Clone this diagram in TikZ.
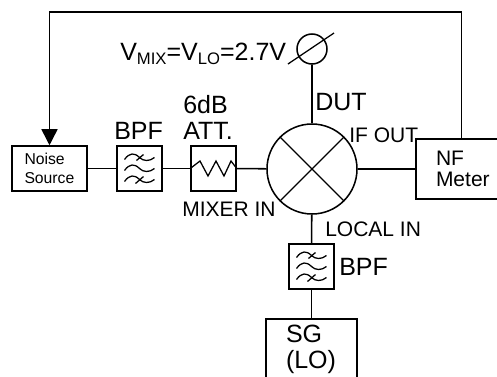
\documentclass[tikz,border=0pt]{standalone}
\usepackage{fontspec}
\setmainfont{Liberation Sans}
\usetikzlibrary{arrows.meta}
\newcommand{\bigtxt}{\fontsize{18.75}{19.5}\selectfont}
\newcommand{\midtxt}{\fontsize{15.75}{15.75}\selectfont}
\newcommand{\smalltxt}{\fontsize{11.8}{14.25}\selectfont}
\newcommand{\subtxt}[1]{\raisebox{-3pt}{\fontsize{12.5}{12.5}\selectfont #1}}
\tikzset{
  wire/.style={line width=1.15pt},
  thinwire/.style={line width=0.95pt},
  blockbox/.style={draw,line width=1.15pt,inner sep=0pt,minimum width=33.75pt,minimum height=33.75pt},
  bigbox/.style={draw,line width=1.15pt,align=left,inner ysep=0pt,inner xsep=15pt,text width=38.25pt,minimum height=45pt},
  lbl/.style={anchor=base west,inner sep=0pt},
  bpf/.pic={
    \draw[thinwire] (-15,-9) .. controls (-10,-16) and (-5,-16) .. (0,-11) .. controls (4,-7) and (10,-7) .. (15,-11);
    \draw[thinwire] (-15,2) .. controls (-10,-5) and (-5,-5) .. (0,0) .. controls (4,4) and (10,4) .. (15,0);
    \draw[thinwire] (-15,13) .. controls (-10,6) and (-5,6) .. (0,11) .. controls (4,15) and (10,15) .. (15,11);
    \draw[thinwire] (-3,-8) -- (4,-14);
    \draw[thinwire] (-4,15) -- (4,8);
  }
}
\begin{document}
\begin{tikzpicture}[x=0.75pt,y=-0.75pt,>={Triangle[length=12pt,width=12pt]}]
\useasboundingbox (0,0) rectangle (497,376);
\clip (0,0) rectangle (497,376);
% blocks
\node[blockbox,minimum width=56.25pt,align=left,text width=37.5pt,inner xsep=9.4pt,font=\smalltxt] (noise) at (49.5,168.5) {Noise\\Source};
\node[blockbox] (bpfa) at (139.5,168.5) {};
\node[blockbox] (att) at (213.5,168.5) {};
\node[draw,circle,line width=1.15pt,inner sep=0pt,minimum size=67.5pt] (mixer) at (312,169) {};
\node[draw,circle,line width=1.15pt,inner sep=0pt,minimum size=22.5pt] (bias) at (312,49) {};
\node[bigbox,font=\midtxt] (nf) at (461.5,169) {NF\\Meter};
\node[blockbox] (bpfb) at (311.5,266.5) {};
\node[bigbox,font=\bigtxt] (sg) at (311.5,349) {SG\\(LO)};
\pic at (bpfa) {bpf};
\pic at (bpfb) {bpf};
% attenuator
\draw[thinwire] (att.west) -- (200,161) -- (208,176) -- (216,161) -- (224,176) -- (231,161) -- (att.east);
% mixer cross
\draw[thinwire] (mixer.45) -- (mixer.225);
\draw[thinwire] (mixer.135) -- (mixer.315);
\coordinate (slasha) at (288,64);
\coordinate (slashb) at (334,33);
\draw[thinwire] (slasha) -- (slashb);
% connections
\draw[wire] (noise) -- (bpfa);
\draw[wire] (bpfa) -- (att);
\draw[wire] (att) -- (mixer);
\draw[wire] (mixer) -- (nf);
\draw[wire] (bias) -- (mixer);
\draw[wire] (mixer) -- (bpfb);
\draw[wire] (bpfb) -- (sg);
\coordinate (topleft) at (noise.north |- 0,12);
\draw[wire,->] (nf.north) |- (topleft) -- (noise.north);
% labels
\node[lbl,font=\bigtxt] (vlab) at (120,60) {V\subtxt{MIX}=V\subtxt{LO}=2.7V};
\node[lbl,font=\bigtxt] (dutlab) at (315,110) {DUT};
\node[lbl,font=\bigtxt] (bpfalab) at (114,139) {BPF};
\node[lbl,font=\bigtxt] (dblab) at (183,113) {6dB};
\node[lbl,font=\bigtxt] (attlab) at (183,139) {ATT.};
\node[lbl,font=\bigtxt] (bpfblab) at (339,275) {BPF};
\node[lbl,font=\midtxt] (minlab) at (182,216) {MIXER IN};
\node[lbl,font=\midtxt] (iflab) at (349,142) {IF OUT};
\node[lbl,font=\midtxt] (lolab) at (325,236) {LOCAL IN};
\end{tikzpicture}
\end{document}
